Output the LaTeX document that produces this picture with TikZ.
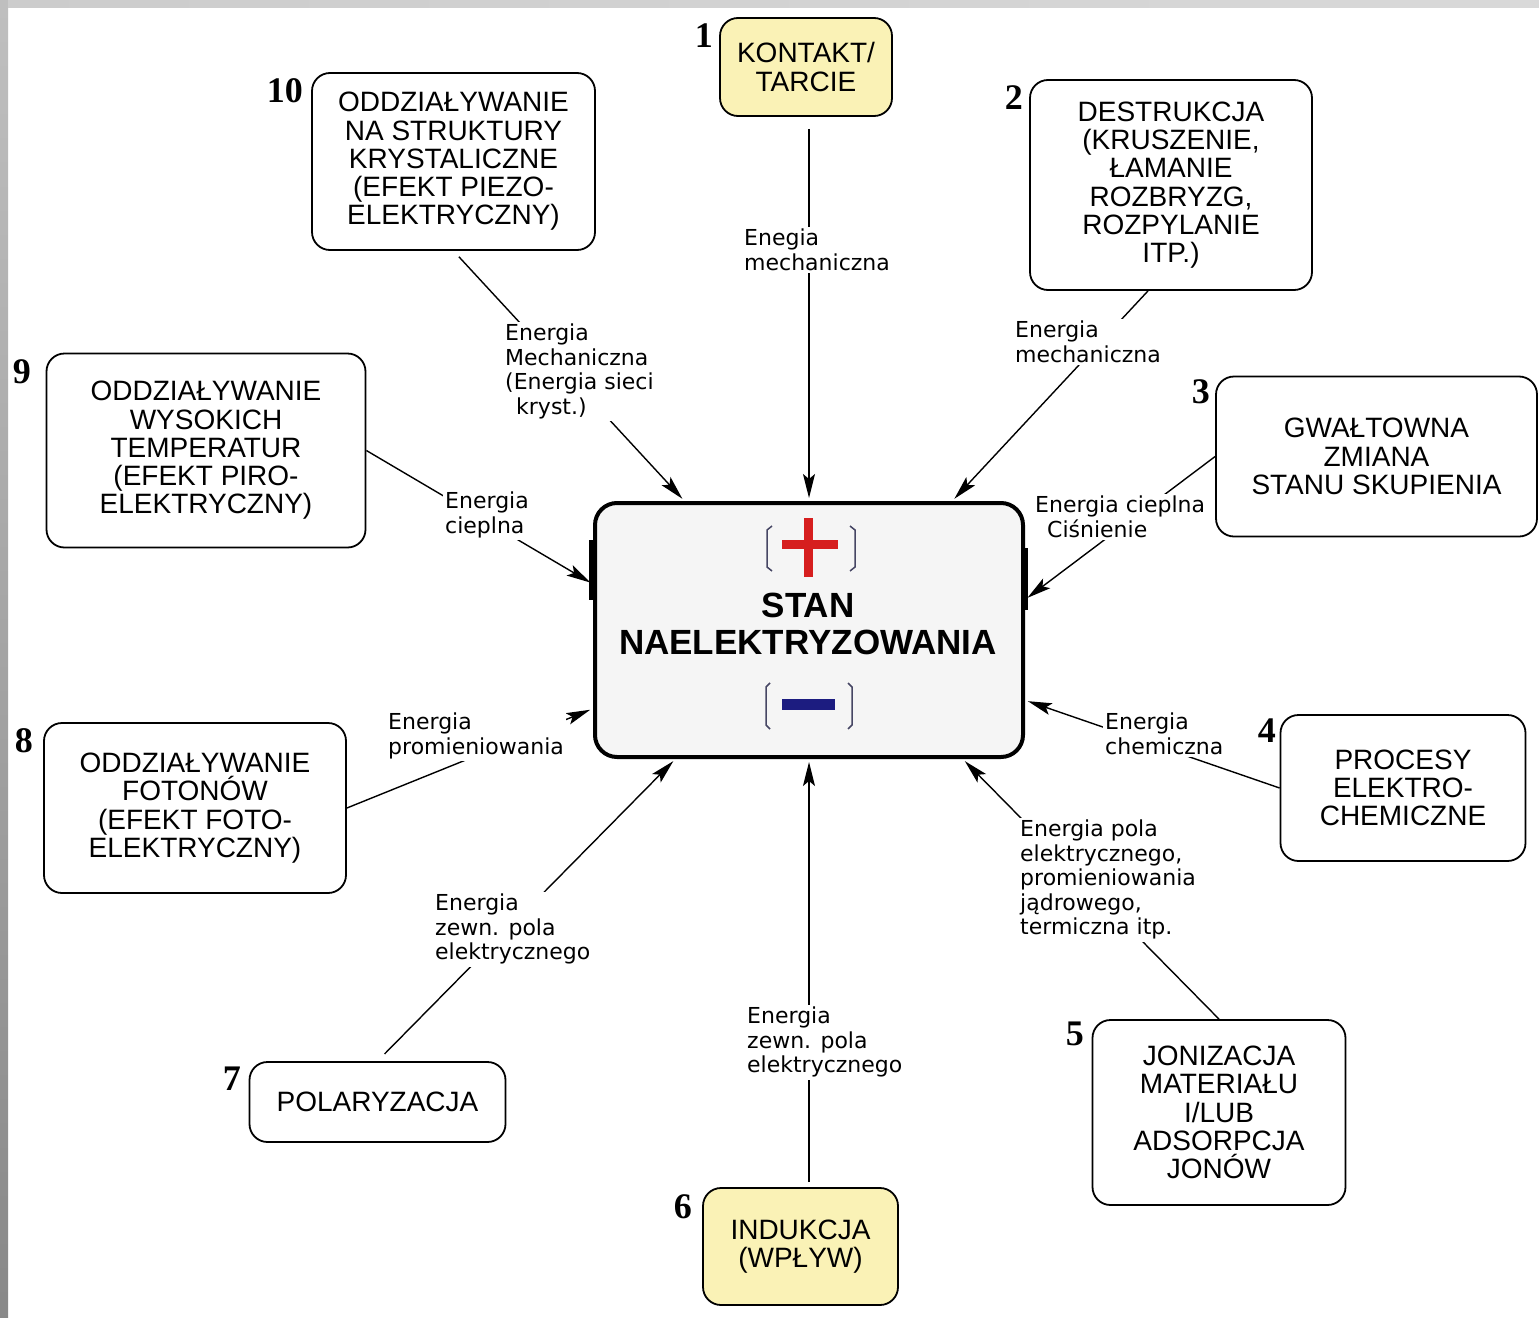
\documentclass[tikz,border=0pt]{standalone}
\usepackage{fontspec}
\setmainfont{Liberation Sans}
\newfontfamily\lbfont{DejaVu Sans}
\newfontfamily\nrfont{Liberation Serif}
\usetikzlibrary{arrows.meta}
\definecolor{boxyel}{RGB}{250,242,182}
\definecolor{plusred}{RGB}{214,30,30}
\definecolor{minusblue}{RGB}{28,28,128}
\definecolor{brk}{RGB}{70,70,100}

\begin{document}
\begin{tikzpicture}[x=1pt,y=-1pt]
  % overall canvas
  \useasboundingbox (0,0) rectangle (1539,1317);

  % styles
  \tikzset{
    bx/.style={draw=black,line width=1.8pt,rounded corners=18pt,fill=white,
      align=center,inner sep=0pt,font=\fontsize{28}{28.3}\selectfont},
    bxy/.style={bx,fill=boxyel},
    cen/.style={draw=black,line width=4pt,rounded corners=22pt,fill=gray!8,
      minimum width=428pt,minimum height=254pt,inner sep=0pt},
    lb/.style={fill=white,inner sep=2pt,align=left,anchor=north west,
      font=\lbfont\fontsize{22}{24.5}\selectfont},
    nr/.style={anchor=base east,inner sep=0pt,
      font=\nrfont\bfseries\fontsize{36}{36}\selectfont},
    ar/.style={draw=black,line width=1.4pt,shorten >=3pt,
      -{Stealth[length=24pt,width=12pt,inset=5pt]}},
  }

  % white background
  \fill[white] (0,0) rectangle (1539,1317);

  % gray frame (left and top strips)
  \shade[top color=gray!50,bottom color=gray!93] (0,0) rectangle (8,1317);
  \shade[left color=gray!40,middle color=gray!20,right color=gray!30]
    (8,0) rectangle (1539,7);

  % --- central "state" box ---
  \node[cen] (stan) at (809,630) {};
  % thicker bits on its sides
  \fill[black] (589,540) rectangle (597,600);
  \fill[black] (1021,548) rectangle (1028,610);
  \node[align=center,inner sep=0pt,font=\bfseries\fontsize{35}{37}\selectfont]
    (stxt) at (808,624) {STAN\\NAELEKTRYZOWANIA};

  % plus sign in brackets
  \fill[plusred] (782,540) rectangle (838,549);
  \fill[plusred] (804,518) rectangle (813,577);
  \draw[brk,line width=1.5pt] (772,526) -- (767,530) -- (767,567) -- (772,571);
  \draw[brk,line width=1.5pt] (850,526) -- (855,530) -- (855,567) -- (850,571);

  % minus sign in brackets
  \fill[minusblue] (782,699) rectangle (835,710);
  \draw[brk,line width=1.5pt] (770,683) -- (766,687) -- (766,725) -- (770,729);
  \draw[brk,line width=1.5pt] (848,683) -- (852,687) -- (852,725) -- (848,729);

  % --- outer boxes ---
  \node[bxy,minimum width=172pt,minimum height=98pt] (b1) at (806,67)
    {KONTAKT/\\TARCIE};
  \node[bx,minimum width=282pt,minimum height=210pt] (b2) at (1171,185)
    {DESTRUKCJA\\(KRUSZENIE,\\ŁAMANIE\\ROZBRYZG,\\ROZPYLANIE\\ITP.)};
  \node[bx,minimum width=321pt,minimum height=160pt] (b3) at (1376.5,456.5)
    {GWAŁTOWNA\\ZMIANA\\STANU SKUPIENIA};
  \node[bx,minimum width=245pt,minimum height=146pt] (b4) at (1403,788)
    {PROCESY\\ELEKTRO-\\CHEMICZNE};
  \node[bx,minimum width=253pt,minimum height=185pt] (b5) at (1219,1112.5)
    {JONIZACJA\\MATERIAŁU\\I/LUB\\ADSORPCJA\\JONÓW};
  \node[bxy,minimum width=195pt,minimum height=117pt] (b6) at (800.5,1246.5)
    {INDUKCJA\\(WPŁYW)};
  \node[bx,minimum width=256pt,minimum height=80pt] (b7) at (377.5,1102)
    {POLARYZACJA};
  \node[bx,minimum width=302pt,minimum height=170pt] (b8) at (195,808)
    {ODDZIAŁYWANIE\\FOTONÓW\\(EFEKT FOTO-\\ELEKTRYCZNY)};
  \node[bx,minimum width=319pt,minimum height=194pt] (b9) at (206,450.5)
    {ODDZIAŁYWANIE\\WYSOKICH\\TEMPERATUR\\(EFEKT PIRO-\\ELEKTRYCZNY)};
  \node[bx,minimum width=283pt,minimum height=177pt] (b10) at (453.5,161.5)
    {ODDZIAŁYWANIE\\NA STRUKTURY\\KRYSTALICZNE\\(EFEKT PIEZO-\\ELEKTRYCZNY)};

  % numbers
  \node[nr] (n1) at (713,47) {1};
  \node[nr] (n2) at (1023,109) {2};
  \node[nr] (n3) at (1210,403) {3};
  \node[nr] (n4) at (1276,742) {4};
  \node[nr] (n5) at (1084,1045) {5};
  \node[nr] (n6) at (692,1218) {6};
  \node[nr] (n7) at (241,1090) {7};
  \node[nr] (n8) at (33,752) {8};
  \node[nr] (n9) at (31,383) {9};
  \node[nr] (n10) at (303,102) {10};

  % --- arrows into the central box ---
  \draw[ar,shorten <=12pt] (stan.north |- b1.south) -- (stan.north);
  \draw[ar] ([xshift=-23pt]b2.south) -- (stan.42);
  \draw[ar] (b3.west) -- (stan.8);
  \draw[ar] (b4.west) -- (stan.342);
  \draw[ar] (b5.north) -- (stan.320);
  \draw[ar,shorten <=5pt] (stan.south |- b6.north) -- (stan.south);
  \draw[ar,shorten <=10pt] (b7.north) -- (stan.224);
  \draw[ar] (b8.east) -- (stan.200);
  \draw[ar] (b9.east) -- (stan.168);
  \draw[ar,shorten <=8pt] (b10.south) -- (stan.134);

  % arrow labels
  \node[lb] (l1) at (742,227) {Enegia\\mechaniczna};
  \node[lb] (l2) at (1013,319) {Energia\\mechaniczna};
  \node[lb] (l3) at (1033,494) {Energia cieplna\\\hspace*{12pt}Ciśnienie};
  \node[lb] (l4) at (1103,711) {Energia\\chemiczna};
  \node[lb] (l5) at (1018,818)
    {Energia pola\\elektrycznego,\\promieniowania\\jądrowego,\\termiczna itp.};
  \node[lb] (l6) at (745,1005) {Energia\\zewn. pola\\elektrycznego};
  \node[lb] (l7) at (433,892) {Energia\\zewn. pola\\elektrycznego};
  \node[lb] (l8) at (386,711) {Energia\\promieniowania};
  \node[lb] (l9) at (443,490) {Energia\\cieplna};
  \node[lb] (l10) at (503,322)
    {Energia\\Mechaniczna\\(Energia sieci\\\hspace*{11pt}kryst.)};
\end{tikzpicture}
\end{document}
